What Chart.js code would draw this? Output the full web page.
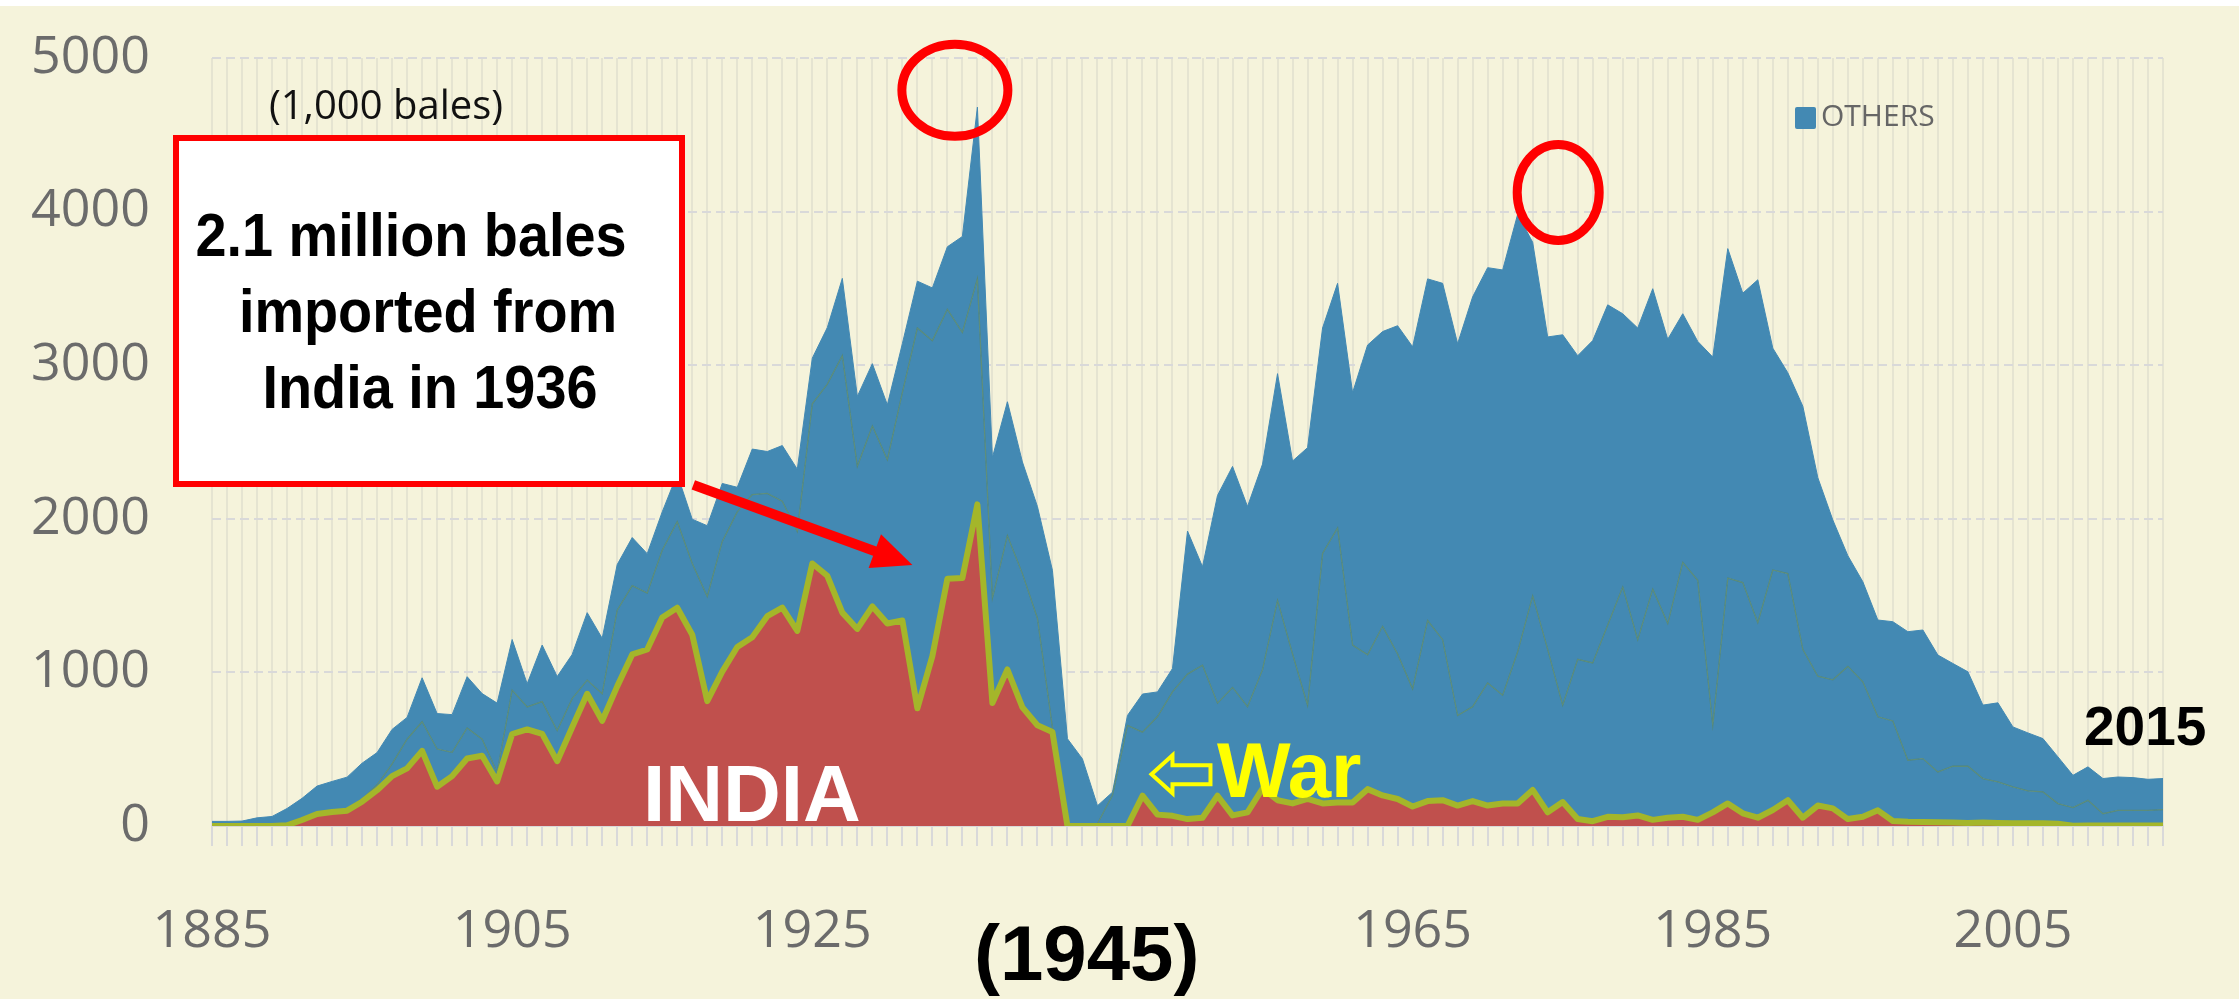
<!DOCTYPE html>
<html>
<head>
<meta charset="utf-8">
<script src="https://cdn.jsdelivr.net/npm/chart.js@4.4.1/dist/chart.umd.min.js"></script>
<style>
html,body{margin:0;padding:0;background:#fff;}
#wrap{position:relative;width:2239px;height:999px;background:#F5F3DB;overflow:hidden;}
#c{position:absolute;left:0;top:0;}
#topband{position:absolute;left:0;top:0;width:2239px;height:6px;background:#fff;}
.ann{position:absolute;white-space:nowrap;}
#units{left:186px;top:84px;width:400px;text-align:center;font-family:"Open Sans",sans-serif;font-size:40px;line-height:40px;color:#111;}
#box{position:absolute;left:173px;top:135px;width:512px;height:352px;box-sizing:border-box;border:6px solid #FF0000;background:#fff;}
.bl{width:600px;text-align:center;font-family:"Liberation Sans",Arial,sans-serif;font-weight:bold;font-size:62px;line-height:62px;color:#000;transform:scaleX(0.9);transform-origin:50% 50%;}
#india{left:643px;top:754px;font-family:"Liberation Sans",Arial,sans-serif;font-weight:bold;font-size:80px;line-height:80px;color:#fff;}
#war{left:1217px;top:731px;font-family:"Liberation Sans",Arial,sans-serif;font-weight:bold;font-size:78px;line-height:78px;color:#FFFF00;}
#y2015{left:2084px;top:699px;font-family:"Liberation Sans",Arial,sans-serif;font-weight:bold;font-size:55px;line-height:55px;color:#000;}
#y1945{left:974px;top:914px;font-family:"Liberation Sans",Arial,sans-serif;font-weight:bold;font-size:78px;line-height:78px;color:#000;}
#legend{left:1795px;top:100px;font-family:"Open Sans",sans-serif;font-size:30px;line-height:30px;color:#666;}
#legend .sw{position:absolute;left:0;top:7px;width:21px;height:22px;border-radius:2px;}
#legend .tx{position:absolute;left:26px;top:0;}
</style>
</head>
<body>
<div id="wrap">
  <canvas id="c" width="2239" height="999"></canvas>
  <div id="topband"></div>
  <div class="ann" id="units">(1,000 bales)</div>
  <div id="box"></div>
  <div class="ann bl" style="left:111px;top:204px;">2.1 million bales</div>
  <div class="ann bl" style="left:128px;top:280px;">imported from</div>
  <div class="ann bl" style="left:130px;top:356px;">India in 1936</div>
  <div class="ann" id="india">INDIA</div>
  <div class="ann" id="war">War</div>
  <div class="ann" id="y2015">2015</div>
  <div class="ann" id="y1945">(1945)</div>
  <div class="ann" id="legend"><span class="sw"></span><span class="tx"></span></div>
</div>
<script>
// ---- categories ----
const years = [];
for (let y = 1885; y <= 2015; y++) years.push(String(y));
const xTickLabels = ['1885', '1905', '1925', '1965', '1985', '2005'];
const yTickLabels = ['0', '1000', '2000', '3000', '4000', '5000'];

// ---- series (1,000 bales) ----
// India (bottom layer)
const indiaBales = [
  0,0,0,0,0,5,39,78,91,100,
  158,233,325,375,489,256,325,439,457,290,
  599,629,600,422,643,861,685,909,1117,1149,
  1357,1421,1245,813,1005,1165,1229,1366,1421,1270,
  1709,1629,1389,1283,1430,1318,1338,766,1106,1609,
  1614,2094,801,1019,772,656,612,0,0,0,
  0,0,197,74,66,45,54,197,69,89,
  243,168,147,176,147,153,153,240,199,176,
  127,162,168,133,162,133,147,147,235,89,
  156,45,31,60,57,69,40,54,60,40,
  89,147,83,54,104,168,54,133,115,45,
  60,102,33,28,26,24,22,20,22,20,
  18,18,18,15,2,3,4,4,4,4,
  4
];
// Upper edge of the second (unlabelled, blue) layer
const secondLayerTop = [
  0,0,0,0,0,5,45,90,100,110,
  175,268,405,565,679,501,480,638,565,348,
  885,775,810,621,829,950,861,1405,1565,1517,
  1795,1981,1709,1494,1853,2045,2157,2166,2115,1917,
  2749,2877,3062,2342,2604,2385,2821,3242,3160,3364,
  3213,3562,1484,1890,1643,1353,640,0,0,15,
  200,655,611,713,873,989,1047,800,902,777,
  1018,1469,1120,786,1774,1940,1178,1114,1300,1120,
  893,1338,1213,719,777,931,852,1134,1498,1150,
  786,1085,1062,1309,1556,1213,1542,1318,1716,1600,
  656,1614,1585,1324,1667,1643,1150,975,952,1039,
  939,711,684,428,439,352,389,389,309,287,
  254,228,222,146,120,167,80,102,102,102,
  106
];
// Upper edge of the whole stack (OTHERS on top)
const totalTop = [
  30,30,32,53,62,114,180,260,290,318,
  409,478,629,707,965,732,725,972,862,800,
  1214,926,1178,973,1117,1389,1222,1702,1878,1773,
  2045,2290,1997,1955,2230,2205,2454,2438,2477,2323,
  3046,3245,3565,2797,3010,2742,3140,3547,3503,3771,
  3838,4680,2399,2762,2370,2080,1665,568,437,132,
  220,720,859,873,1025,1920,1688,2152,2341,2080,
  2356,2945,2376,2463,3242,3533,2821,3131,3219,3257,
  3120,3562,3533,3140,3445,3635,3620,3983,3800,3184,
  3198,3062,3160,3393,3335,3242,3498,3169,3335,3155,
  3053,3759,3469,3556,3111,2951,2733,2268,1992,1760,
  1590,1341,1330,1265,1276,1113,1058,1004,787,802,
  645,606,569,450,330,385,309,319,315,304,
  309
];

// ---- styles ----
const RED = '#C0504D', BLUE = '#4389B3', LINE = '#A4B62A';
const FONT = '"Open Sans", sans-serif';

// ---- annotation shapes anchored in data units ----
const annot = {
  circles: [
    { idx: 49.5, val: 4790, rx: 53, ry: 46, lw: 9 },
    { idx: 89.7, val: 4125, rx: 41, ry: 48, lw: 9 }
  ],
  redArrow: { from: { idx: 32.07, val: 2221 }, to: { idx: 46.67, val: 1700 }, lw: 10, head: 40, half: 18 },
  warArrow: { idx: 62.6, val: 337, pts: [[21,-19],[21,-9],[59,-9],[59,10],[21,10],[21,19]], lw: 4 }
};

const annotationPlugin = {
  id: 'annotations',
  afterDatasetsDraw(chart) {
    const ctx = chart.ctx, xs = chart.scales.x, ys = chart.scales.y;
    const px = i => xs.getPixelForValue(i), py = v => ys.getPixelForValue(v);
    ctx.save();
    ctx.strokeStyle = '#FF0000';
    annot.circles.forEach(c => {
      ctx.lineWidth = c.lw;
      ctx.beginPath();
      ctx.ellipse(px(c.idx), py(c.val), c.rx, c.ry, 0, 0, Math.PI * 2);
      ctx.stroke();
    });
    const a = annot.redArrow;
    const sx = px(a.from.idx), sy = py(a.from.val), tx = px(a.to.idx), ty = py(a.to.val);
    const len = Math.hypot(tx - sx, ty - sy), ux = (tx - sx) / len, uy = (ty - sy) / len;
    const bx = tx - ux * a.head, by = ty - uy * a.head;
    ctx.lineWidth = a.lw; ctx.lineCap = 'butt';
    ctx.beginPath(); ctx.moveTo(sx, sy); ctx.lineTo(bx + ux * 2, by + uy * 2); ctx.stroke();
    ctx.fillStyle = '#FF0000';
    ctx.beginPath();
    ctx.moveTo(tx, ty);
    ctx.lineTo(bx - uy * a.half, by + ux * a.half);
    ctx.lineTo(bx + uy * a.half, by - ux * a.half);
    ctx.closePath(); ctx.fill();
    const w = annot.warArrow;
    const wx = px(w.idx), wy = py(w.val);
    ctx.strokeStyle = '#FFFF00'; ctx.lineWidth = w.lw; ctx.lineJoin = 'miter';
    ctx.beginPath(); ctx.moveTo(wx, wy);
    w.pts.forEach(p => ctx.lineTo(wx + p[0], wy + p[1]));
    ctx.closePath(); ctx.stroke();
    ctx.restore();
  }
};

const chart = new Chart(document.getElementById('c'), {
  type: 'line',
  data: {
    labels: years,
    datasets: [
      { label: 'INDIA', data: indiaBales, borderColor: LINE, borderWidth: 6, backgroundColor: RED,
        fill: 'origin', borderJoinStyle: 'round' },
      { label: 'USA', data: secondLayerTop, borderColor: 'rgba(90,135,100,0.75)', borderWidth: 1.3,
        backgroundColor: BLUE, fill: '-1' },
      { label: 'OTHERS', data: totalTop, borderColor: BLUE, borderWidth: 1, backgroundColor: BLUE, fill: '-1' }
    ]
  },
  options: {
    responsive: false, animation: false, devicePixelRatio: 1,
    layout: { padding: { top: 58, right: 76, bottom: 0, left: 0 } },
    plugins: { legend: { display: false }, tooltip: { enabled: false } },
    elements: { point: { radius: 0, hoverRadius: 0 }, line: { tension: 0 } },
    scales: {
      x: {
        grid: { color: 'rgba(205,205,195,0.4)', lineWidth: 2, drawTicks: true, tickLength: 20,
                tickColor: '#D9D9D9', tickWidth: 2 },
        border: { display: true, color: '#D9D9D9', width: 2 },
        ticks: { autoSkip: false, maxRotation: 0, minRotation: 0, padding: 55, color: '#6B6B6B',
                 font: { family: FONT, size: 52 },
                 callback: (v, i) => xTickLabels.includes(years[i]) ? years[i] : '' },
        afterFit: s => { s.height = 173; s.paddingLeft = 0; s.paddingRight = 0; }
      },
      y: {
        min: 0, max: 5000,
        grid: { color: '#D9D9D9', lineWidth: 2, drawTicks: false },
        border: { display: false, dash: [9, 5] },
        ticks: { stepSize: 1000, padding: 62, color: '#6B6B6B', font: { family: FONT, size: 52 },
                 callback: v => yTickLabels[Math.round(v / 1000)] },
        afterFit: s => { s.width = 212; s.paddingTop = 0; s.paddingBottom = 0; }
      }
    }
  },
  plugins: [annotationPlugin]
});

const od = chart.data.datasets[2];
document.querySelector('#legend .sw').style.background = od.backgroundColor;
document.querySelector('#legend .tx').textContent = od.label;
</script>
</body>
</html>
